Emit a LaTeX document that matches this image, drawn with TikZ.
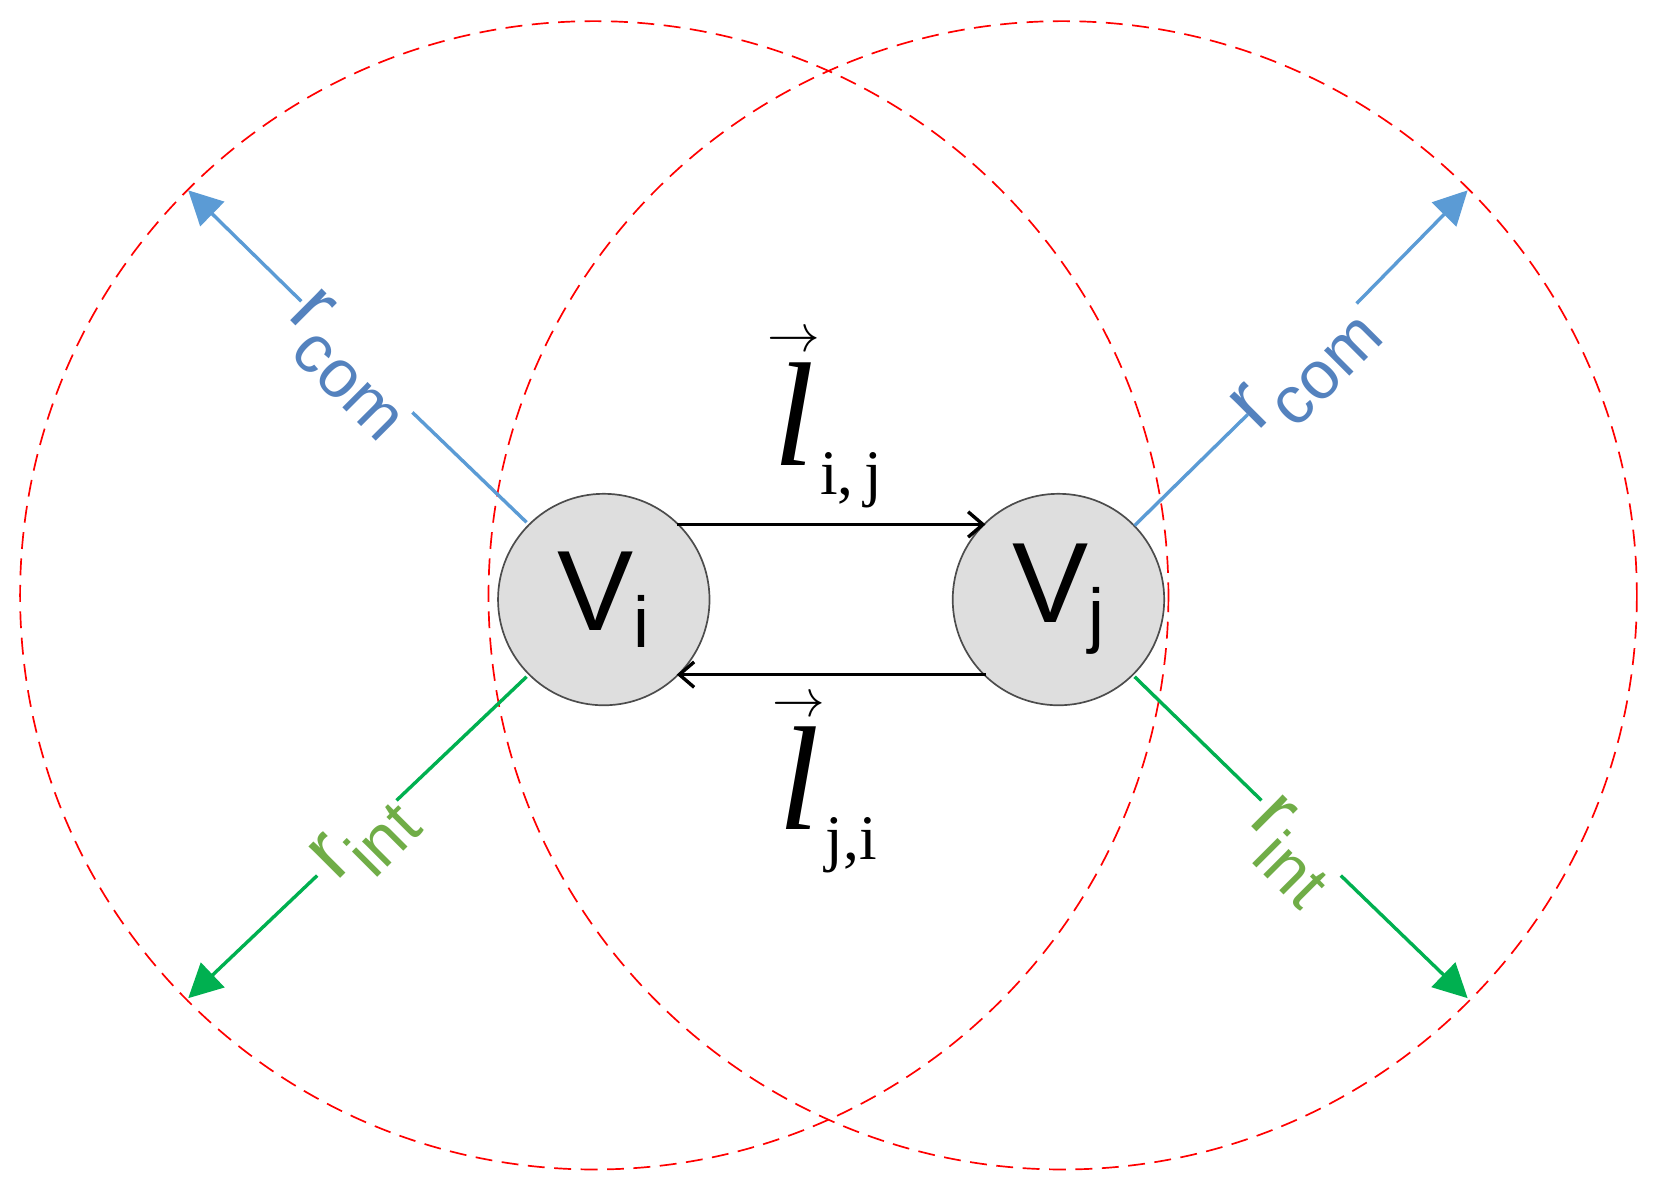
\documentclass[tikz,border=0pt]{standalone}
\usepackage{amsmath}
\usepackage{fontspec}
\setmainfont{Liberation Serif}
\newfontfamily\sansf{Liberation Sans}
\usetikzlibrary{arrows.meta}
\definecolor{cblue}{RGB}{91,155,213}
\definecolor{tblue}{RGB}{84,130,190}
\definecolor{cgreen}{RGB}{0,176,80}
\definecolor{tgreen}{RGB}{112,173,71}
\begin{document}
\begin{tikzpicture}[x=0.5pt,y=-0.5pt,
  rng/.style={red,line width=0.8pt,dash pattern=on 8pt off 4.5pt},
  vert/.style={circle,draw=black!70,fill=black!13,line width=0.8pt,minimum size=100pt,inner sep=0pt,font=\sansf\fontsize{54}{54}\selectfont},
  blu/.style={cblue,line width=1.6pt},
  grn/.style={cgreen,line width=1.6pt},
  link/.style={black,line width=1.6pt,-{Straight Barb[length=7pt,width=12pt]}},
  lab/.style={font=\sansf\fontsize{40}{40}\selectfont,inner sep=0pt},
  ll/.style={font=\fontsize{70}{70}\selectfont,inner sep=0pt}]
\useasboundingbox (0,0) rectangle (1568,1127);
\draw[rng] (562,563) circle (543);
\draw[rng] (1005,563) circle (543);
\node[vert] (vi) at (571,567) {V\raisebox{-8pt}{\fontsize{34}{34}\selectfont i}};
\node[vert] (vj) at (1001,567) {V\raisebox{-8pt}{\fontsize{34}{34}\selectfont j}};
\coordinate (a1) at (640,496); \coordinate (a2) at (932,496);
\coordinate (b1) at (932,638); \coordinate (b2) at (640,638);
\draw[link] (a1) -- (a2);
\draw[link] (b1) -- (b2);
\node[ll] (lij) at (780,395) {$\overset{\scriptscriptstyle\rightarrow}{\textit{l}}$\raisebox{-14pt}{\fontsize{30}{30}\selectfont i,\,j}};
\node[ll] (lji) at (780,740) {$\overset{\scriptscriptstyle\rightarrow}{\textit{l}}$\raisebox{-14pt}{\fontsize{30}{30}\selectfont j,i}};
% left blue
\coordinate (lb0) at (498,494); \coordinate (lb1) at (390,390);
\coordinate (lb2) at (285,285); \coordinate (lb3) at (178,180);
\draw[blu] (lb0) -- (lb1);
\draw[blu,-{Triangle[length=16pt,width=16pt]}] (lb2) -- (lb3);
\node[lab,text=tblue,rotate=-45] (lbl1) at (330,345) {r\raisebox{-12pt}{\fontsize{32}{32}\selectfont com}};
% right blue
\coordinate (rb0) at (1073,497); \coordinate (rb1) at (1180,392);
\coordinate (rb2) at (1283,287); \coordinate (rb3) at (1388,180);
\draw[blu] (rb0) -- (rb1);
\draw[blu,-{Triangle[length=16pt,width=16pt]}] (rb2) -- (rb3);
\node[lab,text=tblue,rotate=45] (lbl2) at (1235,350) {r\raisebox{-12pt}{\fontsize{32}{32}\selectfont com}};
% left green
\coordinate (lg0) at (498,640); \coordinate (lg1) at (375,757);
\coordinate (lg2) at (300,828); \coordinate (lg3) at (178,944);
\draw[grn] (lg0) -- (lg1);
\draw[grn,-{Triangle[length=16pt,width=16pt]}] (lg2) -- (lg3);
\node[lab,text=tgreen,rotate=45] (lbl3) at (345,795) {r\raisebox{-12pt}{\fontsize{32}{32}\selectfont int}};
% right green
\coordinate (rg0) at (1073,640); \coordinate (rg1) at (1193,757);
\coordinate (rg2) at (1268,828); \coordinate (rg3) at (1388,944);
\draw[grn] (rg0) -- (rg1);
\draw[grn,-{Triangle[length=16pt,width=16pt]}] (rg2) -- (rg3);
\node[lab,text=tgreen,rotate=-45] (lbl4) at (1220,805) {r\raisebox{-12pt}{\fontsize{32}{32}\selectfont int}};
\end{tikzpicture}
\end{document}
